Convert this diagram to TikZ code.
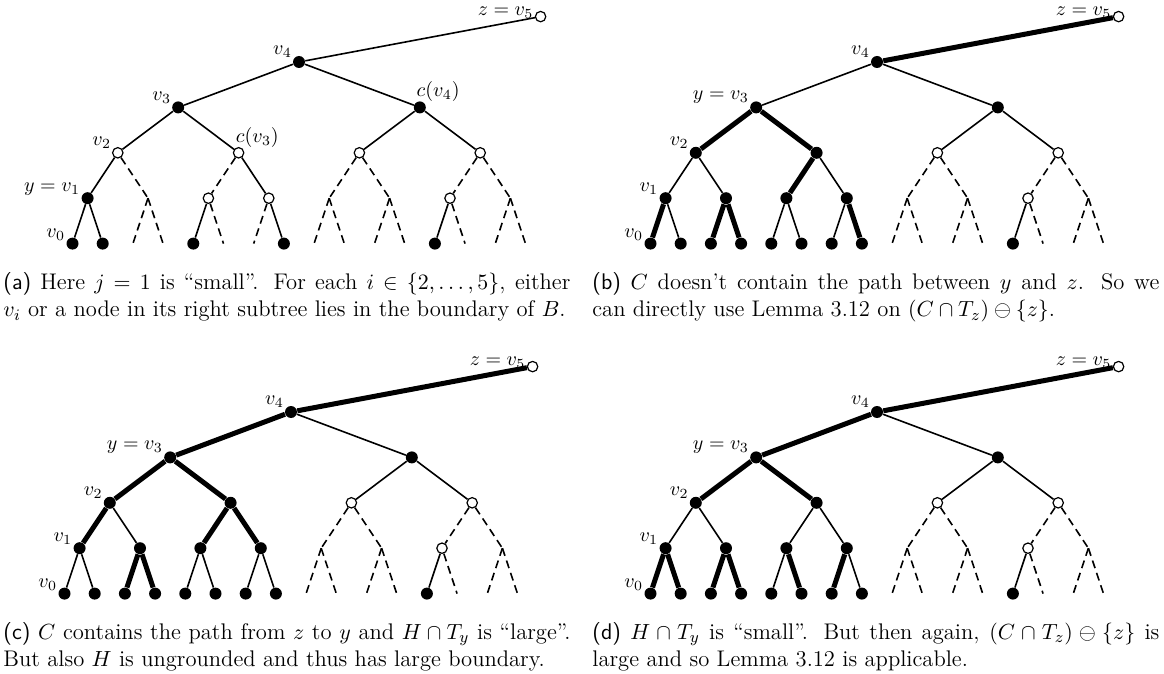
\documentclass[tikz,border=0pt]{standalone}
\usepackage{amssymb, amsmath}
\usepackage{tikz}

\tikzset{
  solidnode/.style={circle, fill=black, inner sep=0pt, minimum size=6pt},
  hollownode/.style={circle, draw, fill=white, line width=0.6pt, inner sep=0pt, minimum size=5.2pt},
  tedge/.style={line width=0.8pt},
  bedge/.style={line width=2.5pt},
  dedge/.style={line width=0.8pt, dash pattern=on 4pt off 2.5pt},
  lbl/.style={inner sep=0.5pt},
  zlbl/.style={label={[lbl, anchor=south east, yshift=-1.6pt]west:$z=v_5$}},
  capt/.style={text width=283.5pt, align=justify, inner sep=0pt, anchor=north west,
    font=\fontsize{11.3}{13.8}\selectfont}
}

% left half of the tree, all nodes black (panels b, c, d)
\newcommand{\leftfull}[1]{%
  \node[solidnode, label={[lbl]160:$y=v_3$}] (#1t1) at (-8,-1) {};
  \node[solidnode, label={[lbl]155:$v_2$}] (#1s1) at (-12,-2) {};
  \node[solidnode] (#1s2) at (-4,-2) {};
  \node[solidnode, label={[lbl]160:$v_1$}] (#1o1) at (-14,-3) {};
  \node[solidnode] (#1o2) at (-10,-3) {};
  \node[solidnode] (#1o3) at (-6,-3) {};
  \node[solidnode] (#1o4) at (-2,-3) {};
  \node[solidnode, label={[lbl]160:$v_0$}] (#1f1) at (-15,-4) {};
  \node[solidnode] (#1f2) at (-13,-4) {};
  \node[solidnode] (#1f3) at (-11,-4) {};
  \node[solidnode] (#1f4) at (-9,-4) {};
  \node[solidnode] (#1f5) at (-7,-4) {};
  \node[solidnode] (#1f6) at (-5,-4) {};
  \node[solidnode] (#1f7) at (-3,-4) {};
  \node[solidnode] (#1f8) at (-1,-4) {};
}

% right half of the tree, the same in all four panels
\newcommand{\rightpart}[1]{%
  \node[solidnode] (#1t2) at (8,-1) {};
  \node[hollownode] (#1s3) at (4,-2) {};
  \node[hollownode] (#1s4) at (12,-2) {};
  \coordinate (#1o5) at (2,-3);
  \coordinate (#1o6) at (6,-3);
  \node[hollownode] (#1o7) at (10,-3) {};
  \coordinate (#1o8) at (14,-3);
  \coordinate (#1f9) at (1,-4);
  \coordinate (#1f10) at (3,-4);
  \coordinate (#1f11) at (5,-4);
  \coordinate (#1f12) at (7,-4);
  \node[solidnode] (#1f13) at (9,-4) {};
  \coordinate (#1f14) at (11,-4);
  \coordinate (#1f15) at (13,-4);
  \coordinate (#1f16) at (15,-4);
  \draw[tedge] (#1v4) -- (#1t2);
  \draw[tedge] (#1t2) -- (#1s3);
  \draw[tedge] (#1t2) -- (#1s4);
  \draw[dedge] (#1s3) -- (#1o5);
  \draw[dedge] (#1s3) -- (#1o6);
  \draw[dedge] (#1s4) -- (#1o7);
  \draw[dedge] (#1s4) -- (#1o8);
  \draw[dedge] (#1o5) -- (#1f9);
  \draw[dedge] (#1o5) -- (#1f10);
  \draw[dedge] (#1o6) -- (#1f11);
  \draw[dedge] (#1o6) -- (#1f12);
  \draw[tedge] (#1o7) -- (#1f13);
  \draw[dedge] (#1o7) -- (#1f14);
  \draw[dedge] (#1o8) -- (#1f15);
  \draw[dedge] (#1o8) -- (#1f16);
}

\begin{document}
\begin{tikzpicture}
\useasboundingbox (0,0) rectangle (582pt,-337pt);

% (a)
\begin{scope}[shift={(149.5pt,-31pt)}, x=7.55pt, y=22.7pt]
\node[hollownode, zlbl] (az) at (16,1) {};
\node[solidnode, label={[lbl]155:$v_4$}] (av4) at (0,0) {};
\node[solidnode, label={[lbl]155:$v_3$}] (at1) at (-8,-1) {};
\node[hollownode, label={[lbl]155:$v_2$}] (as1) at (-12,-2) {};
\node[hollownode] (as2) at (-4,-2) {};
\node[solidnode, label={[lbl]165:$y=v_1$}] (ao1) at (-14,-3) {};
\coordinate (ao2) at (-10,-3);
\node[hollownode] (ao3) at (-6,-3) {};
\node[hollownode] (ao4) at (-2,-3) {};
\node[solidnode, label={[lbl]160:$v_0$}] (af1) at (-15,-4) {};
\node[solidnode] (af2) at (-13,-4) {};
\coordinate (af3) at (-11,-4);
\coordinate (af4) at (-9,-4);
\node[solidnode] (af5) at (-7,-4) {};
\coordinate (af6) at (-5,-4);
\coordinate (af7) at (-3,-4);
\node[solidnode] (af8) at (-1,-4) {};
\rightpart{a}
\node[lbl, anchor=south west] (acv3) at (as2.north west) {$c(v_3)$};
\node[lbl, anchor=south west] (acv4) at (at2.north west) {$c(v_4)$};

\draw[tedge] (az) -- (av4);
\draw[tedge] (av4) -- (at1);
\draw[tedge] (at1) -- (as1);
\draw[tedge] (at1) -- (as2);
\draw[tedge] (as1) -- (ao1);
\draw[dedge] (as1) -- (ao2);
\draw[dedge] (as2) -- (ao3);
\draw[tedge] (as2) -- (ao4);
\draw[tedge] (ao1) -- (af1);
\draw[tedge] (ao1) -- (af2);
\draw[dedge] (ao2) -- (af3);
\draw[dedge] (ao2) -- (af4);
\draw[tedge] (ao3) -- (af5);
\draw[dedge] (ao3) -- (af6);
\draw[dedge] (ao4) -- (af7);
\draw[tedge] (ao4) -- (af8);
\end{scope}

% (b)
\begin{scope}[shift={(438.5pt,-31pt)}, x=7.55pt, y=22.7pt]
\node[hollownode, zlbl] (bz) at (16,1) {};
\node[solidnode, label={[lbl]155:$v_4$}] (bv4) at (0,0) {};
\leftfull{b}
\rightpart{b}

\draw[bedge] (bz) -- (bv4);
\draw[tedge] (bv4) -- (bt1);
\draw[bedge] (bt1) -- (bs1);
\draw[bedge] (bt1) -- (bs2);
\draw[tedge] (bs1) -- (bo1);
\draw[tedge] (bs1) -- (bo2);
\draw[bedge] (bs2) -- (bo3);
\draw[tedge] (bs2) -- (bo4);
\draw[bedge] (bo1) -- (bf1);
\draw[tedge] (bo1) -- (bf2);
\draw[bedge] (bo2) -- (bf3);
\draw[bedge] (bo2) -- (bf4);
\draw[tedge] (bo3) -- (bf5);
\draw[tedge] (bo3) -- (bf6);
\draw[tedge] (bo4) -- (bf7);
\draw[bedge] (bo4) -- (bf8);
\end{scope}

% (c)
\begin{scope}[shift={(145.5pt,-206pt)}, x=7.55pt, y=22.7pt]
\node[hollownode, zlbl] (cz) at (16,1) {};
\node[solidnode, label={[lbl]155:$v_4$}] (cv4) at (0,0) {};
\leftfull{c}
\rightpart{c}

\draw[bedge] (cz) -- (cv4);
\draw[bedge] (cv4) -- (ct1);
\draw[bedge] (ct1) -- (cs1);
\draw[bedge] (ct1) -- (cs2);
\draw[bedge] (cs1) -- (co1);
\draw[tedge] (cs1) -- (co2);
\draw[bedge] (cs2) -- (co3);
\draw[bedge] (cs2) -- (co4);
\draw[tedge] (co1) -- (cf1);
\draw[tedge] (co1) -- (cf2);
\draw[bedge] (co2) -- (cf3);
\draw[bedge] (co2) -- (cf4);
\draw[tedge] (co3) -- (cf5);
\draw[tedge] (co3) -- (cf6);
\draw[tedge] (co4) -- (cf7);
\draw[tedge] (co4) -- (cf8);
\end{scope}

% (d)
\begin{scope}[shift={(438.5pt,-206pt)}, x=7.55pt, y=22.7pt]
\node[hollownode, zlbl] (dz) at (16,1) {};
\node[solidnode, label={[lbl]155:$v_4$}] (dv4) at (0,0) {};
\leftfull{d}
\rightpart{d}

\draw[bedge] (dz) -- (dv4);
\draw[bedge] (dv4) -- (dt1);
\draw[bedge] (dt1) -- (ds1);
\draw[bedge] (dt1) -- (ds2);
\draw[tedge] (ds1) -- (do1);
\draw[tedge] (ds1) -- (do2);
\draw[tedge] (ds2) -- (do3);
\draw[tedge] (ds2) -- (do4);
\draw[bedge] (do1) -- (df1);
\draw[bedge] (do1) -- (df2);
\draw[bedge] (do2) -- (df3);
\draw[bedge] (do2) -- (df4);
\draw[tedge] (do3) -- (df5);
\draw[bedge] (do3) -- (df6);
\draw[bedge] (do4) -- (df7);
\draw[tedge] (do4) -- (df8);
\end{scope}

% captions
\node[capt] (capa) at (1.5pt,-136pt) {\textsf{(a)} Here $j=1$ is ``small''. For each $i\in\{2,\dots,5\}$, either\linebreak $v_i$ or a node in its right subtree lies in the boundary of $B$.};
\node[capt] (capb) at (296pt,-136pt) {\textsf{(b)} $C$ doesn't contain the path between $y$ and $z$. So we\linebreak can directly use Lemma 3.12 on $(C\cap T_z)\ominus\{z\}$.};
\node[capt] (capc) at (1.5pt,-311pt) {\textsf{(c)} $C$ contains the path from $z$ to $y$ and $H\cap T_y$ is ``large''.\linebreak But also $H$ is ungrounded and thus has large boundary.};
\node[capt] (capd) at (296pt,-311pt) {\textsf{(d)} $H\cap T_y$ is ``small''. But then again, $(C\cap T_z)\ominus\{z\}$ is\linebreak large and so Lemma 3.12 is applicable.};
\end{tikzpicture}
\end{document}
